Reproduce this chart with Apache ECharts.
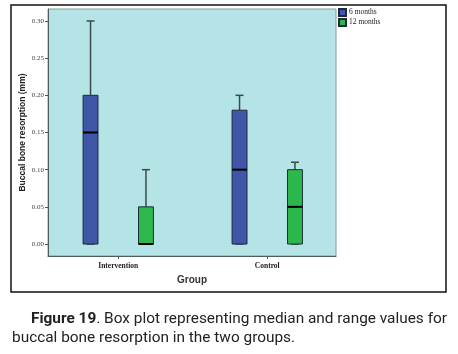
<!DOCTYPE html>
<html lang="en">
<head>
    <meta charset="UTF-8">
    <title>Buccal bone resorption</title>
    <style>
        html, body { margin: 0; padding: 0; background: #fff; }
    </style>
</head>
<body>
<div id="main" style="width: 458px;height:354px;"></div>
<script src="https://cdn.jsdelivr.net/npm/echarts@6/dist/echarts.min.js"></script>
<script>
    // categories and box values: [min, Q1, median, Q3, max]
    var groups = ['Intervention', 'Control'];
    var sixMonths = [[0, 0, 0.15, 0.20, 0.30], [0, 0, 0.10, 0.18, 0.20]];
    var twelveMonths = [[0, 0, 0, 0.05, 0.10], [0, 0, 0.05, 0.10, 0.11]];
    var yTicks = [0, 0.05, 0.10, 0.15, 0.20, 0.25, 0.30];

    var boxOffset = 0.186; // box centre shift from group centre (axis units)
    var boxHalf = 0.05;    // half box width (axis units)

    function toItems(list, shift) {
        var out = [];
        for (var i = 0; i < list.length; i++) {
            out.push([i + 1 + shift].concat(list[i]));
        }
        return out;
    }

    function renderBox(params, api) {
        var x = api.value(0);
        var pMin = api.coord([x, api.value(1)]);
        var pQ1 = api.coord([x, api.value(2)]);
        var pMed = api.coord([x, api.value(3)]);
        var pQ3 = api.coord([x, api.value(4)]);
        var pMax = api.coord([x, api.value(5)]);
        var left = api.coord([x - boxHalf, 0])[0];
        var right = api.coord([x + boxHalf, 0])[0];
        var cx = pMed[0];
        var style = api.style();
        var whisker = { stroke: '#3b4b4c', lineWidth: 1.5 };
        return {
            type: 'group',
            children: [
                { type: 'line', shape: { x1: cx, y1: pMax[1], x2: cx, y2: pQ3[1] }, style: whisker },
                { type: 'line', shape: { x1: cx - 4, y1: pMax[1], x2: cx + 4, y2: pMax[1] }, style: whisker },
                { type: 'line', shape: { x1: cx, y1: pMin[1], x2: cx, y2: pQ1[1] }, style: whisker },
                { type: 'line', shape: { x1: cx - 4, y1: pMin[1], x2: cx + 4, y2: pMin[1] }, style: whisker },
                {
                    type: 'rect',
                    shape: { x: left, y: pQ3[1], width: right - left, height: pQ1[1] - pQ3[1] },
                    style: { fill: style.fill, stroke: '#1e2a3a', lineWidth: 1 }
                },
                { type: 'line', shape: { x1: left, y1: pMed[1], x2: right, y2: pMed[1] }, style: { stroke: '#000', lineWidth: 2 } }
            ]
        };
    }

    var myChart = echarts.init(document.getElementById('main'));
    var option = {
        backgroundColor: '#fff',
        animation: false,
        legend: {
            data: ['6 months', '12 months'],
            orient: 'vertical',
            left: 338,
            top: 8,
            padding: 0,
            itemWidth: 7,
            itemHeight: 7,
            itemGap: 1,
            icon: 'rect',
            textStyle: { fontFamily: 'Liberation Serif', fontSize: 7.5, color: '#222', padding: [0, 0, 0, -2] }
        },
        grid: {
            left: 48,
            top: 9,
            width: 288,
            height: 247,
            show: true,
            backgroundColor: '#b4e4e6',
            borderColor: '#8a9c9d',
            borderWidth: 1
        },
        xAxis: {
            type: 'value',
            min: 0.5285,
            max: 2.4614,
            name: 'Group',
            nameLocation: 'middle',
            nameGap: 19,
            nameMoveOverlap: false,
            nameTextStyle: { fontFamily: 'Liberation Sans', fontWeight: 'bold', fontSize: 10, color: '#333' },
            splitLine: { show: false },
            axisLine: { onZero: false, lineStyle: { color: '#4f5c5c', width: 1 } },
            axisTick: { customValues: [1, 2], length: 3, lineStyle: { color: '#555' } },
            axisLabel: {
                customValues: [1, 2],
                margin: 6,
                fontFamily: 'Liberation Serif',
                fontWeight: 'bold',
                fontSize: 7.5,
                color: '#222',
                formatter: function (v) { return groups[Math.round(v) - 1]; }
            }
        },
        yAxis: {
            type: 'value',
            min: -0.0161,
            max: 0.3161,
            name: 'Buccal bone resorption (mm)',
            nameLocation: 'middle',
            nameGap: 21,
            nameMoveOverlap: false,
            nameTextStyle: { fontFamily: 'Liberation Sans', fontWeight: 'bold', fontSize: 8.5, color: '#222' },
            splitLine: { show: false },
            axisLine: { show: true, lineStyle: { color: '#4f5c5c', width: 1 } },
            axisTick: { show: true, customValues: yTicks, length: 3, lineStyle: { color: '#555' } },
            axisLabel: {
                customValues: yTicks,
                margin: 4,
                fontFamily: 'Liberation Serif',
                fontSize: 7,
                color: '#444',
                formatter: function (v) { return v.toFixed(2); }
            }
        },
        graphic: [
            {
                type: 'rect',
                shape: { x: 11, y: 5, width: 435, height: 287 },
                style: { fill: 'none', stroke: '#111', lineWidth: 1.5 },
                silent: true
            },
            {
                type: 'text',
                left: 31,
                top: 312,
                style: {
                    text: '{b|Figure 19}. Box plot representing median and range values for',
                    font: '15.4px Roboto',
                    fill: '#222',
                    rich: { b: { fontWeight: 'bold', fontFamily: 'Roboto', fontSize: 15.4, fill: '#222' } }
                }
            },
            {
                type: 'text',
                left: 12,
                top: 331,
                style: {
                    text: 'buccal bone resorption in the two groups.',
                    font: '15.4px Roboto',
                    fill: '#222'
                }
            }
        ],
        series: [
            {
                name: '6 months',
                type: 'custom',
                renderItem: renderBox,
                itemStyle: { color: '#3f56a9', borderColor: '#1e2a3a', borderWidth: 0.8 },
                encode: { x: 0, y: [1, 2, 3, 4, 5] },
                data: toItems(sixMonths, -boxOffset)
            },
            {
                name: '12 months',
                type: 'custom',
                renderItem: renderBox,
                itemStyle: { color: '#2db84b', borderColor: '#1e2a3a', borderWidth: 0.8 },
                encode: { x: 0, y: [1, 2, 3, 4, 5] },
                data: toItems(twelveMonths, boxOffset)
            }
        ]
    };
    myChart.setOption(option);
</script>
</body>
</html>
